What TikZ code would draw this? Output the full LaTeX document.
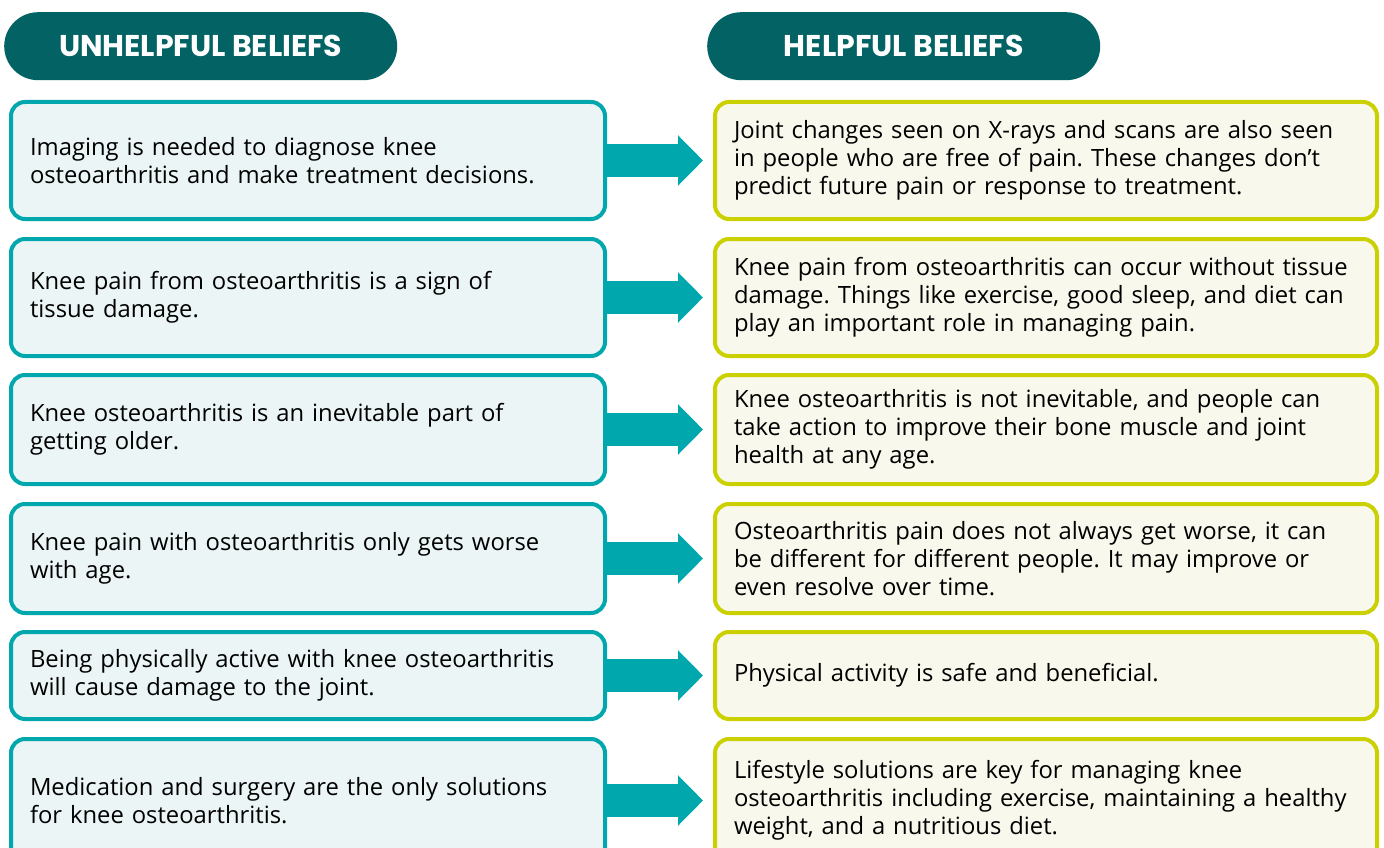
\documentclass[tikz,border=0pt]{standalone}
\usepackage{fontspec}
\setmainfont{Open Sans}
\newfontfamily\headfont{Poppins}
\usetikzlibrary{arrows.meta}
\frenchspacing

\begin{document}
\begin{tikzpicture}[x=1pt, y=-1pt,
    every node/.style={font=\fontsize{23.8}{28}\selectfont},
    pill/.style={fill=headerfill, text=white, rounded corners=34pt, minimum width=393pt,
        minimum height=68pt, anchor=north west, font=\headfont\bfseries\fontsize{30}{32}\selectfont},
    oldbelief/.style={draw=tealline, fill=tealfill, line width=4pt, rounded corners=14pt,
        anchor=north west, align=left, text width=556pt, inner xsep=19pt, minimum width=594pt},
    newbelief/.style={draw=limeline, fill=limefill, line width=4pt, rounded corners=14pt,
        anchor=north west, align=left, text width=624pt, inner xsep=19pt, minimum width=662pt},
    turn/.style={draw=tealline, line width=33pt, shorten >=10pt,
        -{Triangle[length=25pt, width=49pt]}}]
    % Define colors
    \definecolor{headerfill}{HTML}{036263}
    \definecolor{tealline}{HTML}{00A7AC}
    \definecolor{tealfill}{HTML}{EBF5F6}
    \definecolor{limeline}{HTML}{CBD000}
    \definecolor{limefill}{HTML}{F8F8EC}

    % Page frame, last row runs off the bottom
    \useasboundingbox (0,0) rectangle (1384,848);
    \clip (0,0) rectangle (1384,848);
    \fill[white] (0,0) rectangle (1384,848);

    % Column headers
    \node[pill] (unhelpful) at (4,12) {UNHELPFUL BELIEFS};
    \node[pill] (helpful) at (707,12) {HELPFUL BELIEFS};

    % Left column - unhelpful beliefs
    \node[oldbelief, minimum height=117pt] (u1) at (9,100)
        {Imaging is needed to diagnose knee\\osteoarthritis and make treatment decisions.};
    \node[oldbelief, minimum height=117pt] (u2) at (9,237)
        {Knee pain from osteoarthritis is a sign of\\tissue damage.};
    \node[oldbelief, minimum height=109pt] (u3) at (9,373)
        {Knee osteoarthritis is an inevitable part of\\getting older.};
    \node[oldbelief, minimum height=109pt] (u4) at (9,502)
        {Knee pain with osteoarthritis only gets worse\\with age.};
    \node[oldbelief, minimum height=87pt] (u5) at (9,630)
        {Being physically active with knee osteoarthritis\\will cause damage to the joint.};
    \node[oldbelief, minimum height=123pt] (u6) at (9,737)
        {Medication and surgery are the only solutions\\for knee osteoarthritis.};

    % Right column - helpful beliefs
    \node[newbelief, minimum height=117pt] (h1) at (713,100)
        {Joint changes seen on X-rays and scans are also seen\\in people who are free of pain. These changes don't\\predict future pain or response to treatment.};
    \node[newbelief, minimum height=117pt] (h2) at (713,237)
        {Knee pain from osteoarthritis can occur without tissue\\damage. Things like exercise, good sleep, and diet can\\play an important role in managing pain.};
    \node[newbelief, minimum height=109pt] (h3) at (713,373)
        {Knee osteoarthritis is not inevitable, and people can\\take action to improve their bone muscle and joint\\health at any age.};
    \node[newbelief, minimum height=109pt] (h4) at (713,502)
        {Osteoarthritis pain does not always get worse, it can\\be different for different people. It may improve or\\even resolve over time.};
    \node[newbelief, minimum height=87pt] (h5) at (713,630)
        {Physical activity is safe and beneficial.};
    \node[newbelief, minimum height=123pt] (h6) at (713,737)
        {Lifestyle solutions are key for managing knee\\osteoarthritis including exercise, maintaining a healthy\\weight, and a nutritious diet.};

    % Arrows from each unhelpful belief to its helpful one
    \draw[turn] (u1.east) -- (h1.west);
    \draw[turn] (u2.east) -- (h2.west);
    \draw[turn] (u3.east) -- (h3.west);
    \draw[turn] (u4.east) -- (h4.west);
    \draw[turn] (u5.east) -- (h5.west);
    \draw[turn] (u6.east) -- (h6.west);
\end{tikzpicture}
\end{document}
